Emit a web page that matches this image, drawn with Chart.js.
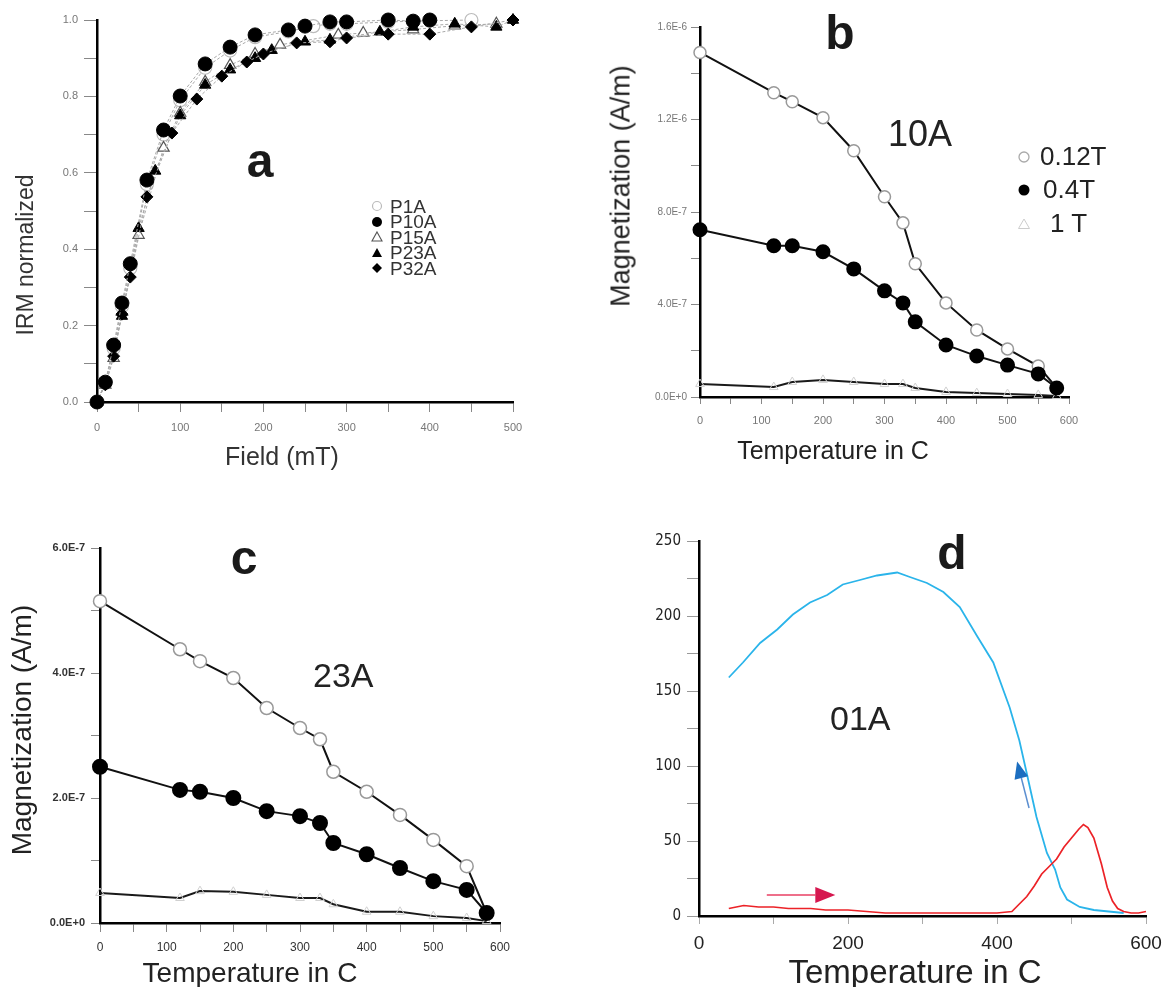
<!DOCTYPE html>
<html><head><meta charset="utf-8">
<script src="https://cdn.jsdelivr.net/npm/chart.js@4.4.1/dist/chart.umd.min.js"></script>
<style>
html,body{margin:0;padding:0;background:#fff;overflow:hidden;width:1162px;height:987px;position:relative;}
canvas{position:absolute;left:0;top:0;}
.t{position:absolute;white-space:nowrap;font-family:"Liberation Sans",Arial,Helvetica,sans-serif;line-height:1;color:#222;}
.b{font-weight:bold;color:#1a1a1a;}
.r{transform:translate(-50%,-50%) rotate(-90deg);}
.c{transform:translateX(-50%);}
svg{position:absolute;overflow:visible;}
</style></head><body>

<script>
// ---------------- DATA ----------------
// Panel a : IRM acquisition (normalized)
const aFieldP1A  = [0,10,20,30,40,60,80,100,130,160,190,230,260,280,300,350,400,450];
const aP1A       = [0,0.05,0.14,0.25,0.35,0.57,0.70,0.79,0.875,0.92,0.955,0.97,0.984,0.99,0.99,0.995,0.998,1.0];
const aFieldP10A = [0,10,20,30,40,60,80,100,130,160,190,230,250,280,300,350,380,400];
const aP10A      = [0,0.052,0.149,0.259,0.362,0.581,0.712,0.801,0.885,0.929,0.961,0.974,0.984,0.995,0.995,1.0,0.997,1.0];
const aFieldP15A = [0,10,20,30,50,80,100,130,160,190,220,290,320,380,430,480];
const aP15A      = [0,0.045,0.115,0.235,0.437,0.665,0.757,0.838,0.882,0.911,0.935,0.961,0.966,0.975,0.985,0.99];
const aFieldP23A = [0,10,30,50,70,100,130,160,190,210,250,280,340,380,430,480,500];
const aP23A      = [0,0.05,0.225,0.455,0.605,0.75,0.83,0.87,0.90,0.921,0.943,0.948,0.969,0.982,0.99,0.982,1.0];
const aFieldP32A = [0,10,20,30,40,60,90,120,150,180,200,240,280,300,350,400,450,500];
const aP32A      = [0,0.045,0.12,0.23,0.327,0.537,0.704,0.793,0.853,0.89,0.911,0.94,0.943,0.953,0.963,0.963,0.982,1.0];
const aXTickVals = [0,100,200,300,400,500];
const aXTickLabels = ['0','100','200','300','400','500'];
const aYTickVals = [0,0.2,0.4,0.6,0.8,1.0];
const aYTickLabels = ['0.0','0.2','0.4','0.6','0.8','1.0'];

// Panel b : sample 10A, thermal demagnetization of 3-axis IRM
const bTemp  = [0,120,150,200,250,300,330,350,400,450,500,550,580];
const b012T  = [1.49e-6,1.316e-6,1.277e-6,1.208e-6,1.065e-6,8.66e-7,7.53e-7,5.76e-7,4.07e-7,2.9e-7,2.08e-7,1.34e-7,3.9e-8];
const b04T   = [7.23e-7,6.54e-7,6.54e-7,6.28e-7,5.54e-7,4.59e-7,4.07e-7,3.25e-7,2.25e-7,1.77e-7,1.38e-7,1.0e-7,3.9e-8];
const b1T    = [5.6e-8,4.3e-8,6.5e-8,7.4e-8,6.5e-8,5.6e-8,5.6e-8,3.9e-8,2.2e-8,1.7e-8,1.3e-8,9e-9,4e-9];
const bXTickVals = [0,100,200,300,400,500,600];
const bXTickLabels = ['0','100','200','300','400','500','600'];
const bYTickVals = [0,4e-7,8e-7,1.2e-6,1.6e-6];
const bYTickLabels = ['0.0E+0','4.0E-7','8.0E-7','1.2E-6','1.6E-6'];

// Panel c : sample 23A
const cTemp  = [0,120,150,200,250,300,330,350,400,450,500,550,580];
const c012T  = [5.15e-7,4.38e-7,4.19e-7,3.92e-7,3.44e-7,3.12e-7,2.94e-7,2.42e-7,2.10e-7,1.73e-7,1.33e-7,9.1e-8,1.6e-8];
const c04T   = [2.50e-7,2.13e-7,2.10e-7,2.0e-7,1.79e-7,1.71e-7,1.6e-7,1.28e-7,1.10e-7,8.8e-8,6.7e-8,5.3e-8,1.6e-8];
const c1T    = [4.8e-8,4.0e-8,5.1e-8,5.0e-8,4.5e-8,4.0e-8,4.0e-8,3.0e-8,1.8e-8,1.8e-8,1.1e-8,8e-9,3e-9];
const cXTickVals = [0,100,200,300,400,500,600];
const cXTickLabels = ['0','100','200','300','400','500','600'];
const cYTickVals = [0,2e-7,4e-7,6e-7];
const cYTickLabels = ['0.0E+0','2.0E-7','4.0E-7','6.0E-7'];

// Panel d : sample 01A, thermomagnetic curves (heating red, cooling blue)
const dHeatT = [40,60,80,100,120,150,170,200,250,300,350,400,420,430,440,450,460,470,480,490,500,510,516,522,530,540,548,555,562,570,580,590,600];
const dHeat  = [5,7,6,6,5,5,4,4,2,2,2,2,3,8,13,20,28,33,38,46,52,58,61,59,52,35,19,10,5,3,2,2,3];
const dCoolT = [40,59,82,105,126,149,172,193,216,239,266,283,306,328,350,374,395,417,430,440,453,467,478,485,494,511,530,550,570];
const dCool  = [159,169,182,191,201,209,214,221,224,227,229,226,222,216,206,186,169,139,117,95,66,42,31,19,11,6,4,3,2];
const dXTickVals = [0,200,400,600];
const dXTickLabels = ['0','200','400','600'];
const dYTickVals = [0,50,100,150,200,250];
const dYTickLabels = ['0','50','100','150','200','250'];

// ---------------- RENDER ----------------
Chart.defaults.font.family = '"Liberation Sans", Arial, Helvetica, sans-serif';
const W = 1200, H = 1000, YW = 90, XH = 60;

function pts(xs, ys){ return xs.map((x,i)=>({x:x, y:ys[i]})); }
function everyTick(min,max,step){ const a=[]; const n=Math.round((max-min)/step); for(let i=0;i<=n;i++) a.push({value:min+i*step}); return a; }

function axis(o){
  return {
    type:'linear', min:o.min, max:o.max, position:o.pos,
    afterFit: s => { if(o.pos==='left') s.width = YW; else s.height = XH; },
    afterBuildTicks: s => { s.ticks = everyTick(o.min,o.max,o.step); },
    border:{display:true,color:'#000',width:o.bw||2.5},
    grid:{display:true,drawOnChartArea:false,drawTicks:true,tickLength:o.tl,tickColor:o.tc||'#888',tickWidth:1},
    ticks:{autoSkip:false,maxRotation:0,minRotation:0,padding:o.pad,color:o.col,font:o.font,
      callback:(v)=>{ const i=o.vals.findIndex(x=>Math.abs(x-v)<=Math.abs(o.max)*1e-6); return i<0?'':o.labels[i]; }}
  };
}

function panel(id, area, xo, yo, datasets, plugins){
  const c=document.createElement('canvas'); c.id=id; c.width=W; c.height=H;
  c.style.width=W+'px'; c.style.height=H+'px'; document.body.appendChild(c);
  return new Chart(c, {
    type:'scatter',
    data:{datasets:datasets},
    options:{
      responsive:false, animation:false, devicePixelRatio:1, events:[],
      layout:{padding:{left:area.l-YW, top:area.t, right:W-area.r, bottom:H-area.b-XH}},
      plugins:{legend:{display:false}, tooltip:{enabled:false}},
      scales:{ x: axis(Object.assign({pos:'bottom'},xo)), y: axis(Object.assign({pos:'left'},yo)) }
    },
    plugins: plugins||[]
  });
}

// Panel a
const aLine = {showLine:true, borderColor:'#a8a8a8', borderWidth:1, borderDash:[3,2], clip:false};
panel('pa', {l:97,t:20,r:513,b:402},
  {min:0,max:500,step:50,vals:aXTickVals,labels:aXTickLabels,tl:10,pad:9,col:'#777',font:{size:11}},
  {min:0,max:1,step:0.1,vals:aYTickVals,labels:aYTickLabels,tl:13,pad:6,col:'#777',font:{size:11}},
  [
    Object.assign({label:'P10A', data:pts(aFieldP10A,aP10A), pointStyle:'circle', pointRadius:7, backgroundColor:'#000', pointBorderColor:'#000'}, aLine),
    Object.assign({label:'P32A', data:pts(aFieldP32A,aP32A), pointStyle:'rectRot', pointRadius:6, backgroundColor:'#000', pointBorderColor:'#000'}, aLine),
    Object.assign({label:'P23A', data:pts(aFieldP23A,aP23A), pointStyle:'triangle', pointRadius:6.5, backgroundColor:'#000', pointBorderColor:'#000'}, aLine),
    Object.assign({label:'P15A', data:pts(aFieldP15A,aP15A), pointStyle:'triangle', pointRadius:6.5, backgroundColor:'#fff', pointBorderColor:'#555', pointBorderWidth:1.2}, aLine),
    Object.assign({label:'P1A', data:pts(aFieldP1A,aP1A), pointStyle:'circle', pointRadius:6.5, backgroundColor:'#fff', pointBorderColor:'#bbb', pointBorderWidth:1.2}, aLine)
  ]);

// Panels b and c (first dataset is drawn on top)
function tdSets(T, s1, s2, s3, r){
  return [
    {label:'0.4T', data:pts(T,s2), showLine:true, borderColor:'#111', borderWidth:2, pointStyle:'circle', pointRadius:r+0.5, backgroundColor:'#000', pointBorderColor:'#000', clip:false},
    {label:'0.12T', data:pts(T,s1), showLine:true, borderColor:'#111', borderWidth:2, pointStyle:'circle', pointRadius:r, backgroundColor:'#fff', pointBorderColor:'#999', pointBorderWidth:1.5, clip:false},
    {label:'1 T', data:pts(T,s3), showLine:true, borderColor:'#1a1a1a', borderWidth:2, pointStyle:'triangle', pointRadius:5, backgroundColor:'rgba(255,255,255,0)', pointBorderColor:'#d0d0d0', pointBorderWidth:1, clip:false}
  ];
}
panel('pb', {l:700,t:27,r:1069,b:397},
  {min:0,max:600,step:50,vals:bXTickVals,labels:bXTickLabels,tl:7,pad:10,col:'#777',font:{size:11}},
  {min:0,max:1.6e-6,step:2e-7,vals:bYTickVals,labels:bYTickLabels,tl:9,pad:4,col:'#777',font:{size:10}},
  tdSets(bTemp,b012T,b04T,b1T,6));
panel('pc', {l:100,t:548,r:500,b:923},
  {min:0,max:600,step:50,vals:cXTickVals,labels:cXTickLabels,tl:9,pad:8,col:'#333',font:{size:12}},
  {min:0,max:6e-7,step:1e-7,vals:cYTickVals,labels:cYTickLabels,tl:9,pad:6,col:'#333',font:{size:11,weight:'bold'}},
  tdSets(cTemp,c012T,c04T,c1T,6.5));

// Panel d
const dArrows = [
  {from:[91,14], to:[183,14], shaft:'#ee6f8a', head:'#d6174f', hl:20, hw:8, lw:2},
  {from:[443,72], to:[427,103], shaft:'#5c8fd0', head:'#1c6ec0', hl:17, hw:7, lw:1.5}
];
const arrowPlugin = {id:'arrows', afterDatasetsDraw(chart){
  const ctx=chart.ctx, xs=chart.scales.x, ys=chart.scales.y;
  dArrows.forEach(a=>{
    const x0=xs.getPixelForValue(a.from[0]), y0=ys.getPixelForValue(a.from[1]);
    const x1=xs.getPixelForValue(a.to[0]), y1=ys.getPixelForValue(a.to[1]);
    const L=Math.hypot(x1-x0,y1-y0), ux=(x1-x0)/L, uy=(y1-y0)/L;
    const bx=x1-ux*a.hl, by=y1-uy*a.hl;
    ctx.save();
    ctx.strokeStyle=a.shaft; ctx.lineWidth=a.lw;
    ctx.beginPath(); ctx.moveTo(x0,y0); ctx.lineTo(bx,by); ctx.stroke();
    ctx.fillStyle=a.head; ctx.beginPath();
    ctx.moveTo(x1,y1); ctx.lineTo(bx-uy*a.hw, by+ux*a.hw); ctx.lineTo(bx+uy*a.hw, by-ux*a.hw); ctx.closePath(); ctx.fill();
    ctx.restore();
  });
}};
panel('pd', {l:699,t:541,r:1146,b:916},
  {min:0,max:600,step:100,vals:dXTickVals,labels:dXTickLabels,tl:8,pad:8,col:'#222',font:{size:19},tc:'#aaa'},
  {min:0,max:250,step:25,vals:dYTickVals,labels:dYTickLabels,tl:12,pad:6,col:'#222',font:{size:15,family:'"Liberation Sans Narrow","DejaVu Sans Condensed","Liberation Sans",Arial,sans-serif'},tc:'#999'},
  [
    {label:'heating', data:pts(dHeatT,dHeat), showLine:true, borderColor:'#ec2227', borderWidth:1.7, pointRadius:0, clip:false},
    {label:'cooling', data:pts(dCoolT,dCool), showLine:true, borderColor:'#2ab4ea', borderWidth:1.8, pointRadius:0, clip:false}
  ], [arrowPlugin]);

// ---------------- TEXT ----------------
function txt(s, cls, css){ const d=document.createElement('div'); d.className='t '+cls; d.textContent=s; Object.assign(d.style, css); document.body.appendChild(d); return d; }
function svgMark(x,y,inner){ const s=document.createElementNS('http://www.w3.org/2000/svg','svg'); s.setAttribute('width','1'); s.setAttribute('height','1'); s.style.left=x+'px'; s.style.top=y+'px'; s.innerHTML=inner; document.body.appendChild(s); }

// panel letters
txt('a','b c',{left:'260px',top:'137px',fontSize:'48px'});
txt('b','b c',{left:'840px',top:'9px',fontSize:'48px'});
txt('c','b c',{left:'244px',top:'534px',fontSize:'48px'});
txt('d','b c',{left:'952px',top:'529px',fontSize:'48px'});
// sample names
txt('10A','',{left:'888px',top:'116px',fontSize:'36px'});
txt('23A','',{left:'313px',top:'658px',fontSize:'34px'});
txt('01A','',{left:'830px',top:'701px',fontSize:'34px'});
// axis titles
txt('IRM normalized','r',{left:'25px',top:'255px',fontSize:'23px',color:'#333'});
txt('Field (mT)','c',{left:'282px',top:'444px',fontSize:'25px',color:'#333'});
txt('Magnetization (A/m)','r',{left:'621px',top:'186px',fontSize:'27px'});
txt('Temperature in C','c',{left:'833px',top:'438px',fontSize:'25px'});
txt('Magnetization (A/m)','r',{left:'22px',top:'730px',fontSize:'28px'});
txt('Temperature in C','c',{left:'250px',top:'959px',fontSize:'28px'});
txt('Temperature in C','c',{left:'915px',top:'955px',fontSize:'33px'});

// legend a
const aLegend = ['P1A','P10A','P15A','P23A','P32A'];
const aMarks = [
  '<circle cx="0" cy="0" r="4.5" fill="#fff" stroke="#bbb" stroke-width="1.2"/>',
  '<circle cx="0" cy="0" r="5" fill="#000"/>',
  '<polygon points="0,-5 5,4 -5,4" fill="#fff" stroke="#555" stroke-width="1.1"/>',
  '<polygon points="0,-5 5,4 -5,4" fill="#000"/>',
  '<polygon points="0,-5 5,0 0,5 -5,0" fill="#000"/>'
];
aLegend.forEach((s,i)=>{ const base=213+i*15.5; txt(s,'',{left:'390px',top:(base-16.1)+'px',fontSize:'19px',color:'#333'}); svgMark(377, base-7, aMarks[i]); });

// legend b
const bLegend = ['0.12T','0.4T','1 T'];
const bLeft = [1040,1043,1050], bBase=[165,198,232];
const bMarks = [
  '<circle cx="0" cy="0" r="5" fill="#fff" stroke="#aaa" stroke-width="1.3"/>',
  '<circle cx="0" cy="0" r="5.5" fill="#000"/>',
  '<polygon points="0,-5 5.5,4.5 -5.5,4.5" fill="#fff" stroke="#ccc" stroke-width="1"/>'
];
bLegend.forEach((s,i)=>{ txt(s,'',{left:bLeft[i]+'px',top:(bBase[i]-22)+'px',fontSize:'26px'}); svgMark(1024, bBase[i]-8, bMarks[i]); });
</script>
</body></html>
